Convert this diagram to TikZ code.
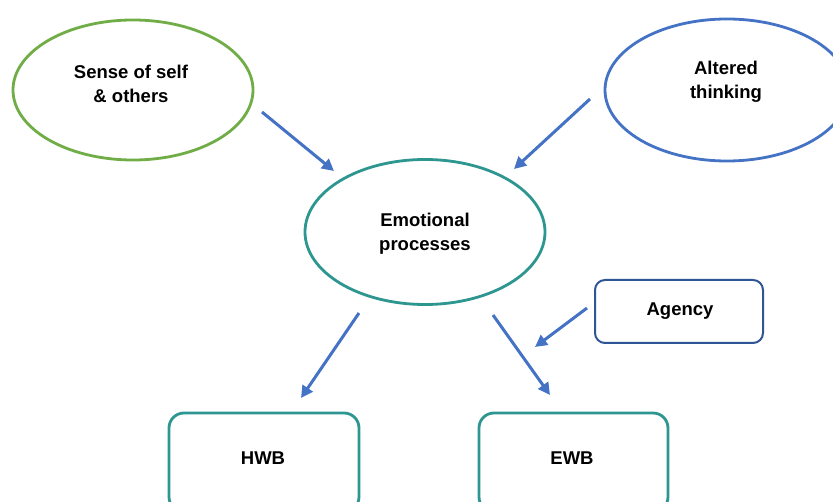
\documentclass[tikz,border=0pt]{standalone}
\usepackage{fontspec}
\setmainfont{Liberation Sans}
\usetikzlibrary{shapes.geometric,arrows.meta}
\definecolor{cgreen}{HTML}{70AD47}
\definecolor{cblue}{HTML}{4472C4}
\definecolor{cteal}{HTML}{2E9690}
\definecolor{cdblue}{HTML}{2F5597}
\tikzset{
  oval/.style={ellipse,draw,line width=2.8pt,fill=white,inner sep=0pt},
  lbl/.style={font=\fontsize{18.5}{24}\selectfont\bfseries,align=center,inner sep=0pt},
  wbbox/.style={draw=cteal,line width=2.8pt,rounded corners=15pt,fill=white},
  agbox/.style={draw=cdblue,line width=2pt,rounded corners=10pt,fill=white},
  arr/.style={draw=cblue,line width=3pt,-{Triangle[length=12pt,width=12pt]}}
}
\begin{document}
\begin{tikzpicture}[x=1pt,y=-1pt]
\useasboundingbox (0,0) rectangle (833,502);
% ovals
\node[oval,draw=cgreen,minimum width=240pt,minimum height=140pt] (sense) at (133,90) {};
\node[oval,draw=cblue,minimum width=244pt,minimum height=142pt] (alt) at (727,90) {};
\node[oval,draw=cteal,minimum width=240pt,minimum height=145pt] (emo) at (425,232) {};
% boxes
\draw[agbox] (595,280) rectangle (763,343);
\node[inner sep=0pt,minimum width=168pt,minimum height=63pt] (agbx) at (679,311.5) {};
\draw[wbbox] (169,413) rectangle (359,512);
\node[inner sep=0pt,minimum width=190pt,minimum height=99pt] (hwbbx) at (264,462) {};
\draw[wbbox] (479,413) rectangle (668,512);
\node[inner sep=0pt,minimum width=189pt,minimum height=99pt] (ewbbx) at (573,462) {};
% texts
\node[lbl] (tsense) at (131,84) {Sense of self\\\& others};
\node[lbl] (talt) at (726,82) {Altered\\thinking};
\node[lbl] (temo) at (425,234) {Emotional\\processes};
\node[lbl] (tag) at (680,311) {Agency};
\node[lbl] (thwb) at (263,458) {HWB};
\node[lbl] (tewb) at (572,458) {EWB};
% arrow ends
\coordinate (a1s) at (262,112); \coordinate (a1e) at (334,171);
\coordinate (a2s) at (590,99);  \coordinate (a2e) at (514,169);
\coordinate (a3s) at (359,313); \coordinate (a3e) at (301,398);
\coordinate (a4s) at (493,315); \coordinate (a4e) at (550,395);
\coordinate (a5s) at (587,308); \coordinate (a5e) at (535,347);
\draw[arr] (a1s) -- (a1e);
\draw[arr] (a2s) -- (a2e);
\draw[arr] (a3s) -- (a3e);
\draw[arr] (a4s) -- (a4e);
\draw[arr] (a5s) -- (a5e);
\end{tikzpicture}
\end{document}
